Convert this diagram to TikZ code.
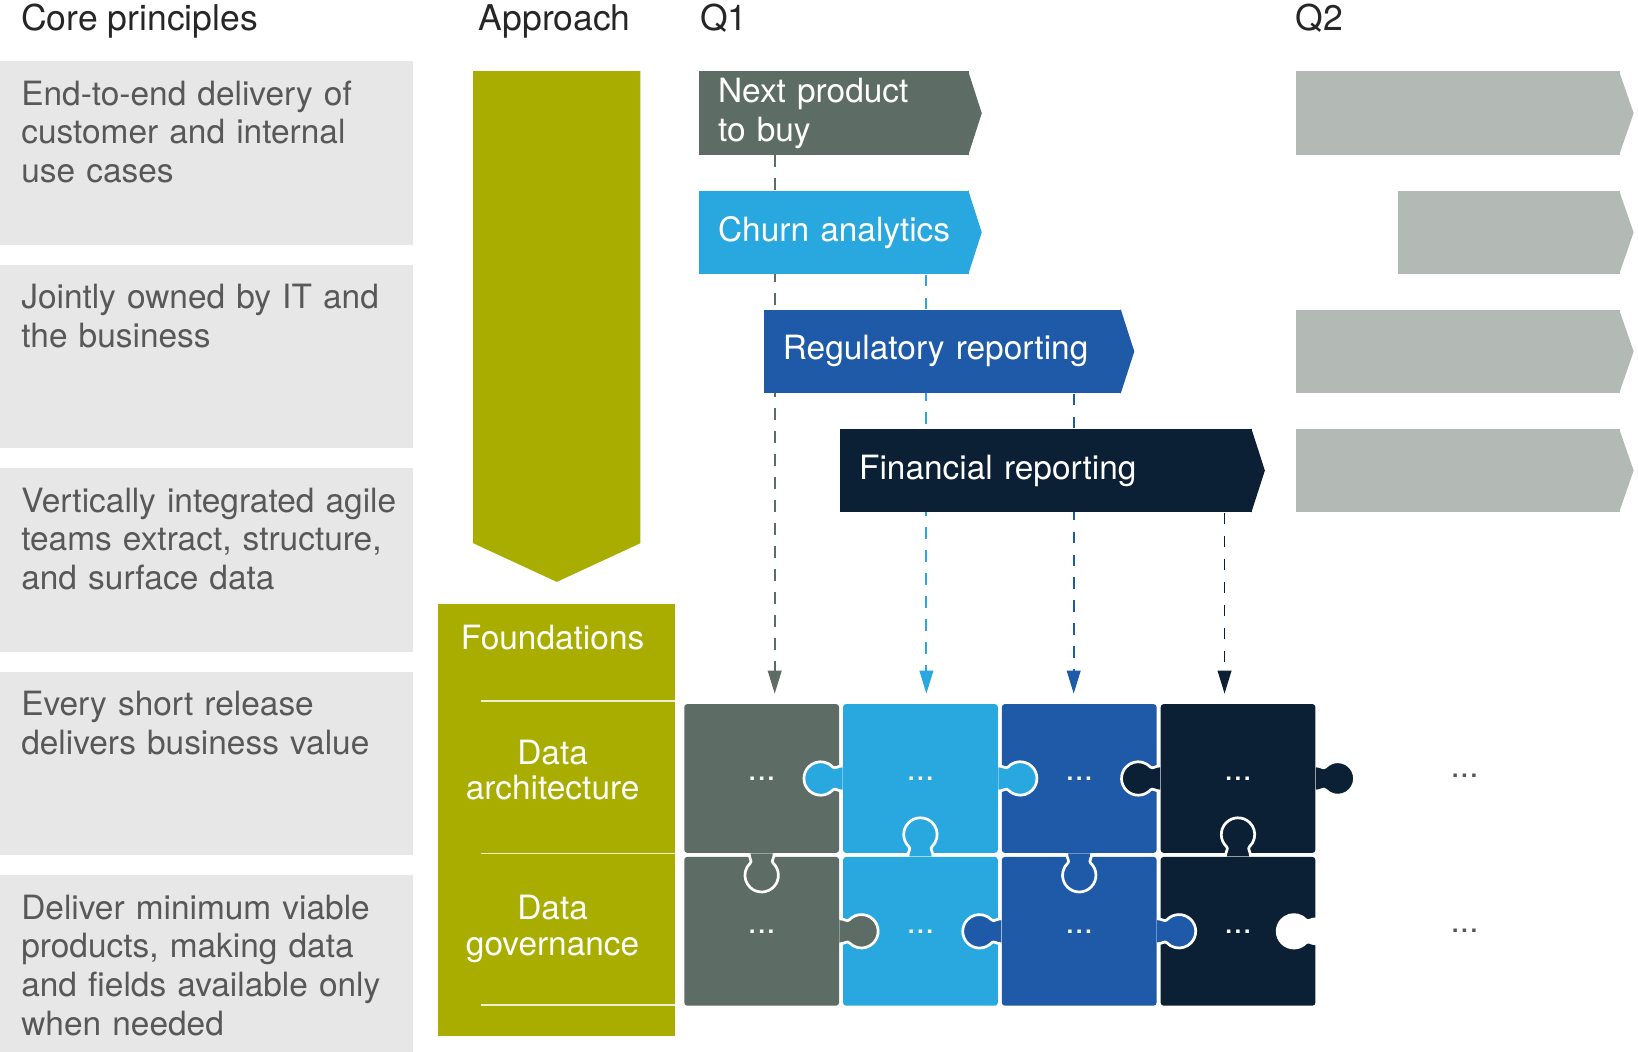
\documentclass[tikz,border=0pt]{standalone}
\usepackage{fontspec}
\setmainfont{TeX Gyre Heros}
\usetikzlibrary{positioning,arrows.meta,backgrounds}

\definecolor{panel}{RGB}{230,231,230}
\definecolor{olive}{RGB}{168,173,0}
\definecolor{slate}{RGB}{94,108,102}
\definecolor{sky}{RGB}{41,168,224}
\definecolor{royal}{RGB}{30,90,167}
\definecolor{navy}{RGB}{11,31,53}
\definecolor{later}{RGB}{179,185,181}
\definecolor{bodytext}{RGB}{88,88,88}
\definecolor{headtext}{RGB}{38,38,38}

\begin{document}
\begin{tikzpicture}[
    x=1pt, y=-1pt,
    principle-box/.style = {fill=panel, minimum width=197.5pt, minimum height=88pt, inner sep=0pt},
    principle-text/.style = {text=bodytext, text width=185pt, align=left, inner sep=0pt, font=\fontsize{16}{18.5}\selectfont},
    col-head/.style = {anchor=base west, inner sep=0pt, text=headtext, font=\fontsize{17}{19}\selectfont},
    chevron/.style = {anchor=north west, minimum height=40pt, inner xsep=9pt, inner ysep=0pt, text=white, align=left, font=\fontsize{16}{18.5}\selectfont},
    found-text/.style = {text=white, align=center, inner sep=0pt, font=\fontsize{16}{17}\selectfont},
    piece/.style = {minimum width=74.1pt, minimum height=71.25pt, inner sep=0pt, rounded corners=1.5pt, text=white, font=\fontsize{16}{18}\selectfont},
    knob-line/.style = {draw=white, line width=1.3pt},
    link/.style = {dash pattern=on 5.5pt off 5.5pt, line width=0.9pt, -{Triangle[length=11pt,width=6.5pt]}},
    knob/.pic = {
      \path[pic actions] (0,-6) .. controls (2.5,-6) and (3.6,-4.4) .. (4.69,-5.5)
        arc[start angle=-136.6, end angle=136.6, radius=8]
        .. controls (3.6,4.4) and (2.5,6) .. (0,6);
    }
  ]
  \useasboundingbox (0,0) rectangle (784,503.5);

  % column heads
  \node[col-head] (h-core) at (10,14.75) {Core principles};
  \node[col-head] (h-appr) at (229,14.75) {Approach};
  \node[col-head] (h-q1) at (335,14.75) {Q1};
  \node[col-head] (h-q2) at (620,14.75) {Q2};

  % core principles
  \node[principle-box, anchor=north west] (p1) at (0,29) {};
  \node[principle-box, below=9pt of p1] (p2) {};
  \node[principle-box, below=9pt of p2] (p3) {};
  \node[principle-box, below=9pt of p3] (p4) {};
  \node[principle-box, below=9pt of p4] (p5) {};
  \node[principle-text, below right=9.5pt and 10pt of p1.north west] (t1) {End-to-end delivery of\\customer and internal\\use cases};
  \node[principle-text, below right=9.5pt and 10pt of p2.north west] (t2) {Jointly owned by IT and\\the business};
  \node[principle-text, below right=9.5pt and 10pt of p3.north west] (t3) {Vertically integrated agile\\teams extract, structure,\\and surface data};
  \node[principle-text, below right=9.5pt and 10pt of p4.north west] (t4) {Every short release\\delivers business value};
  \node[principle-text, below right=9.5pt and 10pt of p5.north west] (t5) {Deliver minimum viable\\products, making data\\and fields available only\\when needed};

  % approach
  \fill[olive] (226.5,34) -- (306.5,34) -- (306.5,260) -- (266.5,278.5) -- (226.5,260) -- cycle;

  \node[fill=olive, minimum width=113.5pt, minimum height=207pt, inner sep=0pt] (found) at (266.25,392.5) {};
  \node[found-text] (f-title) at (264.5,305) {Foundations};
  \node[found-text] (f-arch) at (264.5,368.5) {Data\\architecture};
  \node[found-text] (f-gov) at (264.5,444.5) {Data\\governance};
  \draw[white!80!olive, line width=0.6pt] (230,335.5) -- (323,335.5);
  \draw[white!80!olive, line width=0.6pt] (230,408.5) -- (323,408.5);
  \draw[white!80!olive, line width=0.6pt] (230,481) -- (323,481);

  % Q1 use cases
  \node[chevron, fill=slate, minimum width=129pt, text width=111pt] (nextbuy) at (334.5,34) {Next product\\to buy};
  \node[chevron, fill=sky, minimum width=129pt, text width=111pt] (churn) at (334.5,91) {\mbox{Churn analytics}};
  \node[chevron, fill=royal, minimum width=171pt, text width=153pt] (regul) at (365.5,148) {Regulatory reporting};
  \node[chevron, fill=navy, minimum width=197pt, text width=179pt] (fin) at (402,205) {Financial reporting};
  \fill[slate] ([xshift=-0.5pt]nextbuy.north east) -- ([xshift=6pt]nextbuy.east) -- ([xshift=-0.5pt]nextbuy.south east) -- cycle;
  \fill[sky] ([xshift=-0.5pt]churn.north east) -- ([xshift=6pt]churn.east) -- ([xshift=-0.5pt]churn.south east) -- cycle;
  \fill[royal] ([xshift=-0.5pt]regul.north east) -- ([xshift=6pt]regul.east) -- ([xshift=-0.5pt]regul.south east) -- cycle;
  \fill[navy] ([xshift=-0.5pt]fin.north east) -- ([xshift=6pt]fin.east) -- ([xshift=-0.5pt]fin.south east) -- cycle;

  % Q2 placeholders
  \node[chevron, fill=later, minimum width=155pt] (later1) at (620,34) {};
  \node[chevron, fill=later, minimum width=106pt] (later2) at (669,91) {};
  \node[chevron, fill=later, minimum width=155pt] (later3) at (620,148) {};
  \node[chevron, fill=later, minimum width=155pt] (later4) at (620,205) {};
  \fill[later] ([xshift=-0.5pt]later1.north east) -- ([xshift=6.5pt]later1.east) -- ([xshift=-0.5pt]later1.south east) -- cycle;
  \fill[later] ([xshift=-0.5pt]later2.north east) -- ([xshift=6.5pt]later2.east) -- ([xshift=-0.5pt]later2.south east) -- cycle;
  \fill[later] ([xshift=-0.5pt]later3.north east) -- ([xshift=6.5pt]later3.east) -- ([xshift=-0.5pt]later3.south east) -- cycle;
  \fill[later] ([xshift=-0.5pt]later4.north east) -- ([xshift=6.5pt]later4.east) -- ([xshift=-0.5pt]later4.south east) -- cycle;

  % puzzle
  \node[piece, fill=slate] (pz11) at (364.55,372.6) {...};
  \node[piece, fill=sky, right=1.5pt of pz11] (pz12) {...};
  \node[piece, fill=royal, right=1.5pt of pz12] (pz13) {...};
  \node[piece, fill=navy, right=1.5pt of pz13] (pz14) {...};
  \node[piece, fill=slate, below=1.5pt of pz11] (pz21) {...};
  \node[piece, fill=sky, right=1.5pt of pz21] (pz22) {...};
  \node[piece, fill=royal, right=1.5pt of pz22] (pz23) {...};
  \node[piece, fill=navy, right=1.5pt of pz23] (pz24) {...};

  \pic[knob-line, fill=sky, rotate=180] at (pz12.west) {knob};
  \pic[knob-line, fill=sky] at (pz12.east) {knob};
  \pic[knob-line, fill=navy, rotate=180] at (pz14.west) {knob};
  \pic[knob-line, fill=navy] at (pz14.east) {knob};
  \pic[knob-line, fill=slate, rotate=-90] at (pz11.south) {knob};
  \pic[knob-line, fill=sky, rotate=90] at (pz22.north) {knob};
  \pic[knob-line, fill=royal, rotate=-90] at (pz13.south) {knob};
  \pic[knob-line, fill=navy, rotate=90] at (pz24.north) {knob};
  \pic[knob-line, fill=slate] at (pz21.east) {knob};
  \pic[knob-line, fill=royal, rotate=180] at (pz23.west) {knob};
  \pic[knob-line, fill=royal] at (pz23.east) {knob};
  \pic[knob-line, fill=white, rotate=180] at (pz24.east) {knob};

  \node[text=bodytext, font=\fontsize{16}{18}\selectfont] (more1) at (701,371.5) {...};
  \node[text=bodytext, font=\fontsize{16}{18}\selectfont] (more2) at (701,445.5) {...};

  % use cases feed the foundations
  \coordinate (in1) at (370.8,332);
  \coordinate (in2) at (443.4,332);
  \coordinate (in3) at (513.9,332);
  \coordinate (in4) at (586.1,332);
  \begin{scope}[on background layer]
    \draw[link, slate] (in1 |- nextbuy.south) -- (in1);
    \draw[link, sky] (in2 |- churn.south) -- (in2);
    \draw[link, royal] (in3 |- regul.south) -- (in3);
    \draw[link, navy] (in4 |- fin.south) -- (in4);
  \end{scope}
\end{tikzpicture}
\end{document}
